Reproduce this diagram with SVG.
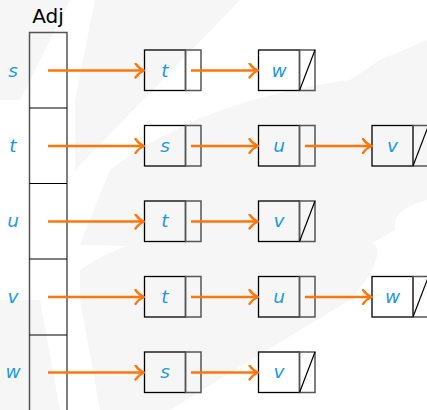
<svg xmlns="http://www.w3.org/2000/svg" width="427" height="410" viewBox="0 0 427 410">
<defs>
<style>
.bg{fill:#f6f6f6}
.lbl{font-family:"DejaVu Sans",sans-serif;font-style:oblique;font-size:18.5px;fill:#1a9be0;text-anchor:middle}
.ttl{font-family:"DejaVu Sans",sans-serif;font-size:20px;fill:#000;text-anchor:middle}
.key{fill:none;stroke:#000;stroke-width:1.3}
.ptr{fill:none;stroke:#555;stroke-width:1.5}
.nil{stroke:#000;stroke-width:1.2}
.arr{stroke:#ff7608;stroke-width:2.4;fill:none;marker-end:url(#ah)}
.col{fill:none;stroke:#555;stroke-width:1.5}
.div{stroke:#000;stroke-width:1.2}
</style>
<marker id="ah" viewBox="0 0 12 16" refX="11" refY="8" markerWidth="12" markerHeight="16" markerUnits="userSpaceOnUse" orient="auto">
<path d="M2.5,1 Q6,6 11,8 Q6,10 2.5,15" fill="none" stroke="#ff7608" stroke-width="2.3" stroke-linecap="round"/>
</marker>
</defs>
<g id="watermark">
<path class="bg" d="M0,0 H70 L20,100 L0,100 Z"/>
<path class="bg" d="M95,0 H240 L75,170 L75,100 Z"/>
<path class="bg" d="M110,170 Q200,100 350,80 L380,60 L427,40 V200 Q390,210 395,230 L360,250 Q300,250 80,245 Z"/>
<path class="bg" d="M80,270 Q150,220 310,225 L375,245 Q385,260 350,300 Q250,360 170,410 L100,410 L80,300 Z"/>
<path class="bg" d="M0,300 H40 L60,410 H0 Z"/>
</g>
<text class="ttl" x="48" y="23">Adj</text>
<g id="adj">
<rect class="col" x="29.5" y="32.5" width="37.5" height="390"/>
<line class="div" x1="29.5" y1="108" x2="67" y2="108"/>
<line class="div" x1="29.5" y1="183.5" x2="67" y2="183.5"/>
<line class="div" x1="29.5" y1="259" x2="67" y2="259"/>
<line class="div" x1="29.5" y1="335" x2="67" y2="335"/>
</g>
<g id="rowlabels">
<text class="lbl" x="13" y="77">s</text>
<text class="lbl" x="13" y="152">t</text>
<text class="lbl" x="13" y="227">u</text>
<text class="lbl" x="13" y="303">v</text>
<text class="lbl" x="13" y="378">w</text>
</g>
<g id="n-s-t">
<rect class="key" x="144.5" y="50" width="41" height="40.5"/><rect class="ptr" x="185.5" y="50" width="15.5" height="40.5"/>
<text class="lbl" x="165" y="77">t</text>
</g>
<g id="n-s-w">
<rect class="key" x="258.5" y="50" width="41" height="40.5"/><rect class="ptr" x="299.5" y="50" width="15.5" height="40.5"/>
<line class="nil" x1="299.5" y1="90.5" x2="315" y2="50"/>
<text class="lbl" x="279" y="77">w</text>
</g>
<g id="n-t-s">
<rect class="key" x="144.5" y="125.5" width="41" height="40.5"/><rect class="ptr" x="185.5" y="125.5" width="15.5" height="40.5"/>
<text class="lbl" x="165" y="152">s</text>
</g>
<g id="n-t-u">
<rect class="key" x="258.5" y="125.5" width="41" height="40.5"/><rect class="ptr" x="299.5" y="125.5" width="15.5" height="40.5"/>
<text class="lbl" x="279" y="152">u</text>
</g>
<g id="n-t-v">
<rect class="key" x="372" y="125.5" width="41" height="40.5"/><rect class="ptr" x="413" y="125.5" width="15.5" height="40.5"/>
<line class="nil" x1="413" y1="166" x2="428.5" y2="125.5"/>
<text class="lbl" x="392.5" y="152">v</text>
</g>
<g id="n-u-t">
<rect class="key" x="144.5" y="201" width="41" height="40.5"/><rect class="ptr" x="185.5" y="201" width="15.5" height="40.5"/>
<text class="lbl" x="165" y="227">t</text>
</g>
<g id="n-u-v">
<rect class="key" x="258.5" y="201" width="41" height="40.5"/><rect class="ptr" x="299.5" y="201" width="15.5" height="40.5"/>
<line class="nil" x1="299.5" y1="241.5" x2="315" y2="201"/>
<text class="lbl" x="279" y="227">v</text>
</g>
<g id="n-v-t">
<rect class="key" x="144.5" y="276.5" width="41" height="40.5"/><rect class="ptr" x="185.5" y="276.5" width="15.5" height="40.5"/>
<text class="lbl" x="165" y="303">t</text>
</g>
<g id="n-v-u">
<rect class="key" x="258.5" y="276.5" width="41" height="40.5"/><rect class="ptr" x="299.5" y="276.5" width="15.5" height="40.5"/>
<text class="lbl" x="279" y="303">u</text>
</g>
<g id="n-v-w">
<rect class="key" x="372" y="276.5" width="41" height="40.5"/><rect class="ptr" x="413" y="276.5" width="15.5" height="40.5"/>
<line class="nil" x1="413" y1="317" x2="428.5" y2="276.5"/>
<text class="lbl" x="392.5" y="303">w</text>
</g>
<g id="n-w-s">
<rect class="key" x="144.5" y="352" width="41" height="40.5"/><rect class="ptr" x="185.5" y="352" width="15.5" height="40.5"/>
<text class="lbl" x="165" y="378">s</text>
</g>
<g id="n-w-v">
<rect class="key" x="258.5" y="352" width="41" height="40.5"/><rect class="ptr" x="299.5" y="352" width="15.5" height="40.5"/>
<line class="nil" x1="299.5" y1="392.5" x2="315" y2="352"/>
<text class="lbl" x="279" y="378">v</text>
</g>
<g id="connectors">
<line class="arr" x1="48" y1="70.5" x2="144" y2="70.5"/>
<line class="arr" x1="191" y1="70.5" x2="258" y2="70.5"/>
<line class="arr" x1="48" y1="146" x2="144" y2="146"/>
<line class="arr" x1="191" y1="146" x2="258" y2="146"/>
<line class="arr" x1="305" y1="146" x2="371.5" y2="146"/>
<line class="arr" x1="48" y1="221.5" x2="144" y2="221.5"/>
<line class="arr" x1="191" y1="221.5" x2="258" y2="221.5"/>
<line class="arr" x1="48" y1="297" x2="144" y2="297"/>
<line class="arr" x1="191" y1="297" x2="258" y2="297"/>
<line class="arr" x1="305" y1="297" x2="371.5" y2="297"/>
<line class="arr" x1="48" y1="372.5" x2="144" y2="372.5"/>
<line class="arr" x1="191" y1="372.5" x2="258" y2="372.5"/>
</g>
</svg>
